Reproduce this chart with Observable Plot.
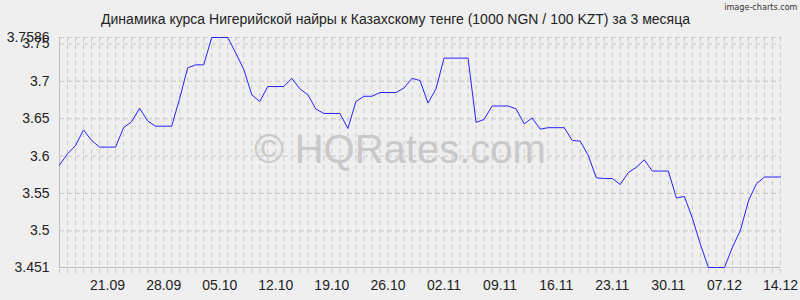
<!DOCTYPE html>
<html><head><meta charset="utf-8">
<script src="https://cdn.jsdelivr.net/npm/d3@7"></script>
<script src="https://cdn.jsdelivr.net/npm/@observablehq/plot@0.6"></script>
<style>
html,body{margin:0;padding:0;background:#efefef;}
#chart svg{display:block;}
</style></head><body><div id="chart"></div>
<script>
const title = "Динамика курса Нигерийской найры к Казахскому тенге (1000 NGN / 100 KZT) за 3 месяца";
const watermark = "© HQRates.com";
const credit = "image-charts.com";

const dates = [
"2025-09-15","2025-09-16","2025-09-17","2025-09-18","2025-09-19","2025-09-20","2025-09-21","2025-09-22","2025-09-23","2025-09-24",
"2025-09-25","2025-09-26","2025-09-27","2025-09-28","2025-09-29","2025-09-30","2025-10-01","2025-10-02","2025-10-03","2025-10-04",
"2025-10-05","2025-10-06","2025-10-07","2025-10-08","2025-10-09","2025-10-10","2025-10-11","2025-10-12","2025-10-13","2025-10-14",
"2025-10-15","2025-10-16","2025-10-17","2025-10-18","2025-10-19","2025-10-20","2025-10-21","2025-10-22","2025-10-23","2025-10-24",
"2025-10-25","2025-10-26","2025-10-27","2025-10-28","2025-10-29","2025-10-30","2025-10-31","2025-11-01","2025-11-02","2025-11-03",
"2025-11-04","2025-11-05","2025-11-06","2025-11-07","2025-11-08","2025-11-09","2025-11-10","2025-11-11","2025-11-12","2025-11-13",
"2025-11-14","2025-11-15","2025-11-16","2025-11-17","2025-11-18","2025-11-19","2025-11-20","2025-11-21","2025-11-22","2025-11-23",
"2025-11-24","2025-11-25","2025-11-26","2025-11-27","2025-11-28","2025-11-29","2025-11-30","2025-12-01","2025-12-02","2025-12-03",
"2025-12-04","2025-12-05","2025-12-06","2025-12-07","2025-12-08","2025-12-09","2025-12-10","2025-12-11","2025-12-12","2025-12-13",
"2025-12-14"
];

const rates = [
3.588,3.603,3.614,3.635,3.621,3.612,3.612,3.612,3.638,3.646,
3.664,3.647,3.640,3.640,3.640,3.677,3.718,3.722,3.722,3.7586,
3.7586,3.7586,3.738,3.716,3.682,3.673,3.693,3.693,3.693,3.704,
3.690,3.682,3.663,3.657,3.657,3.657,3.637,3.673,3.680,3.680,
3.685,3.685,3.685,3.691,3.704,3.701,3.671,3.690,3.731,3.731,
3.731,3.731,3.645,3.649,3.667,3.667,3.667,3.663,3.643,3.651,
3.636,3.638,3.638,3.638,3.621,3.620,3.601,3.571,3.570,3.570,
3.562,3.578,3.585,3.595,3.580,3.580,3.580,3.544,3.546,3.517,
3.482,3.451,3.451,3.451,3.478,3.501,3.540,3.563,3.572,3.572,
3.572
];

const xTickDates = ["2025-09-21","2025-09-28","2025-10-05","2025-10-12","2025-10-19","2025-10-26",
"2025-11-02","2025-11-09","2025-11-16","2025-11-23","2025-11-30","2025-12-07","2025-12-14"];
const yTicks = [3.451, 3.5, 3.55, 3.6, 3.65, 3.7, 3.75, 3.7586];

const parse = d3.utcParse("%Y-%m-%d");
const data = dates.map((d, i) => ({date: parse(d), rate: rates[i]}));
const xTicks = xTickDates.map(parse);
const [yMin, yMax] = d3.extent(rates);
const [xMin, xMax] = d3.extent(data, d => d.date);

const font = "'Liberation Sans', Arial, sans-serif";

const chart = Plot.plot({
  width: 800, height: 300,
  marginTop: 37, marginBottom: 33, marginLeft: 59, marginRight: 20,
  style: {background: "#efefef", fontFamily: font, fontSize: "14px", color: "#222", overflow: "visible"},
  x: {type: "utc", domain: [xMin, xMax], ticks: xTicks, tickFormat: d3.utcFormat("%d.%m"), tickSize: 0, tickPadding: 13, label: null},
  y: {domain: [yMin, yMax], ticks: yTicks, tickFormat: d => String(d), tickSize: 0, tickPadding: 10, label: null},
  marks: [
    Plot.ruleX(data, {x: "date", stroke: "#c8c8c8", strokeDasharray: "4,4", insetBottom: -10}),
    Plot.ruleY(yTicks, {stroke: "#c8c8c8", strokeDasharray: "5,3"}),
    Plot.ruleY([yMin], {stroke: "#bdbdbd"}),
    Plot.ruleX([xMin], {stroke: "#bdbdbd"}),
    Plot.text([watermark], {frameAnchor: "middle", text: d => d, fontSize: 40, fill: "#c9c9c9", lineAnchor: "bottom", dx: -20, dy: 10, fontFamily: font}),
    Plot.lineY(data, {x: "date", y: "rate", stroke: "#2424ff", strokeWidth: 1}),
    Plot.text([title], {frameAnchor: "top", text: d => d, fontSize: 14, fill: "#222", lineAnchor: "bottom", dx: -24.5, dy: -13.5, fontFamily: font}),
    Plot.text([credit], {frameAnchor: "top-right", text: d => d, fontSize: 9, fill: "#333", textAnchor: "end", lineAnchor: "bottom", dx: 17, dy: -27.5, fontFamily: "'DejaVu Sans Condensed', 'DejaVu Sans', sans-serif"})
  ]
});
document.getElementById("chart").appendChild(chart);
</script>
</body></html>
